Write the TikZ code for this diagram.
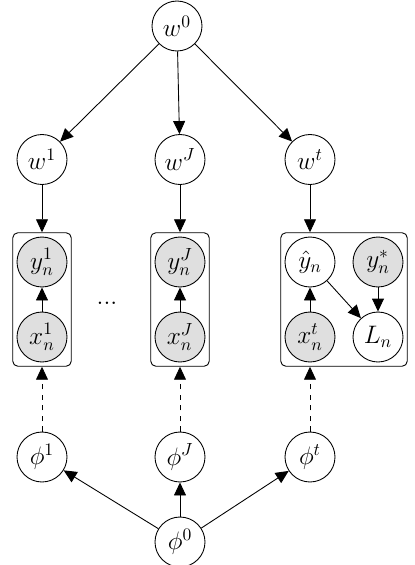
\documentclass[tikz,border=0pt]{standalone}
\usetikzlibrary{arrows.meta,fit}
\begin{document}
\begin{tikzpicture}[x=0.02cm,y=-0.02cm,
  latentnode/.style={circle,draw=black,fill=white,minimum size=1cm,inner sep=0pt,line width=0.5pt,font=\Large},
  obsnode/.style={latentnode,fill=gray!25},
  platebox/.style={draw,rectangle,rounded corners=3pt,inner sep=2.2pt,line width=0.5pt},
  edgearrow/.style={-{Triangle[length=7.4pt,width=6.8pt]},line width=0.5pt},
  dashedge/.style={edgearrow,dashed}]
\useasboundingbox (0,0) rectangle (414,565);
% top
\node[latentnode] (w0) at (177,26) {$w^0$};
\node[latentnode] (w1) at (42,159.5) {$w^1$};
\node[latentnode] (wJ) at (180,159.5) {$w^J$};
\node[latentnode] (wt) at (310,159.5) {$w^t$};
% plates
\node[obsnode] (y1) at (42,262) {$y_n^1$};
\node[obsnode] (x1) at (42,337) {$x_n^1$};
\node[obsnode] (yJ) at (180,262) {$y_n^J$};
\node[obsnode] (xJ) at (180,337) {$x_n^J$};
\node[latentnode] (yh) at (310,262) {$\hat{y}_n$};
\node[obsnode] (ys) at (378,262) {$y_n^*$};
\node[obsnode] (xt) at (310,337) {$x_n^t$};
\node[latentnode] (Ln) at (378,337) {$L_n$};
\node[platebox,fit=(y1)(x1)] (p1) {};
\node[platebox,fit=(yJ)(xJ)] (pJ) {};
\node[platebox,fit=(yh)(ys)(xt)(Ln)] (pt) {};
\node[font=\Large] (dots) at (107,303) {...};
% bottom
\node[latentnode] (phi1) at (42,457) {$\phi^1$};
\node[latentnode] (phiJ) at (180,457) {$\phi^J$};
\node[latentnode] (phit) at (310,457) {$\phi^t$};
\node[latentnode] (phi0) at (180,542) {$\phi^0$};
% edges
\draw[edgearrow] (w0) -- (w1);
\draw[edgearrow] (w0) -- (wJ);
\draw[edgearrow] (w0) -- (wt);
\draw[edgearrow] (w1) -- (w1 |- p1.north);
\draw[edgearrow] (wJ) -- (wJ |- pJ.north);
\draw[edgearrow] (wt) -- (wt |- pt.north);
\draw[edgearrow] (x1) -- (y1);
\draw[edgearrow] (xJ) -- (yJ);
\draw[edgearrow] (xt) -- (yh);
\draw[edgearrow] (yh) -- (Ln);
\draw[edgearrow] (ys) -- (Ln);
\draw[dashedge] (phi1) -- (phi1 |- p1.south);
\draw[dashedge] (phiJ) -- (phiJ |- pJ.south);
\draw[dashedge] (phit) -- (phit |- pt.south);
\draw[edgearrow] (phi0) -- (phi1);
\draw[edgearrow] (phi0) -- (phiJ);
\draw[edgearrow] (phi0) -- (phit);
\end{tikzpicture}
\end{document}
